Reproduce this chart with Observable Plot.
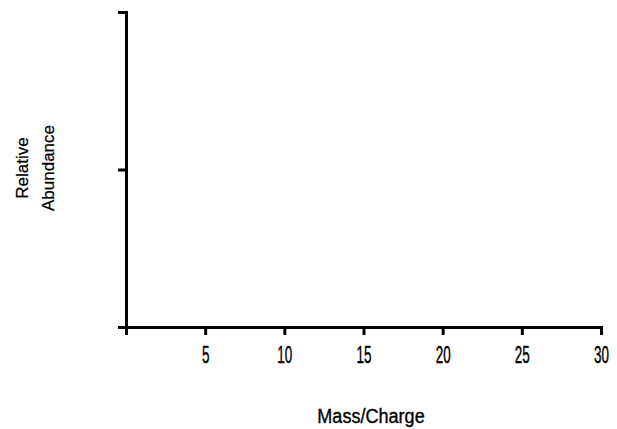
<!DOCTYPE html>
<html>
<head>
<meta charset="utf-8">
<script src="https://cdn.jsdelivr.net/npm/d3@7"></script>
<script src="https://cdn.jsdelivr.net/npm/@observablehq/plot@0.6"></script>
<style>
  html, body { margin: 0; padding: 0; background: #fff; }
  #chart svg { display: block; }
</style>
</head>
<body>
<div id="chart"></div>
<script>
const xDomain = [0, 30];
const yDomain = [0, 1];
const xTicks = [0, 5, 10, 15, 20, 25, 30];
const yTicks = [0, 0.5, 1];
const xLabel = "Mass/Charge";
const yLabel = "Relative\nAbundance";

const font = "'Liberation Sans', Arial, sans-serif";

const chart = Plot.plot({
  width: 617,
  height: 429,
  marginLeft: 126,
  marginRight: 16,
  marginTop: 12,
  marginBottom: 102,
  style: { fontFamily: font, background: "#fff", color: "#000" },
  x: { domain: xDomain },
  y: { domain: yDomain },
  marks: [
    Plot.frame({ anchor: "left", stroke: "#000", strokeWidth: 3 }),
    Plot.frame({ anchor: "bottom", stroke: "#000", strokeWidth: 3 }),
    Plot.axisY({ ticks: yTicks, tickSize: 8, strokeWidth: 3, tickFormat: () => "", label: null }),
    Plot.axisX({ ticks: xTicks, tickSize: 8, strokeWidth: 3, tickPadding: 10,
                 tickFormat: d => d === 0 ? "" : String(d), fontSize: 24, label: null }),
    Plot.text([xLabel], { text: d => d, frameAnchor: "bottom", dy: 95, dx: 7, fontSize: 21 }),
    Plot.text([yLabel], { text: d => d, frameAnchor: "left", textAnchor: "middle", rotate: -90,
                          dx: -94, dy: -2, fontSize: 17, lineHeight: 1.53 })
  ]
});
document.getElementById("chart").appendChild(chart);

// condensed look: squeeze glyphs horizontally about their own centre, and thicken strokes
function squeeze(nodes, s, w) {
  nodes.forEach(node => {
    const b = node.getBBox();
    const cx = b.x + b.width / 2;
    const t = node.getAttribute("transform") || "";
    node.setAttribute("transform", `${t} translate(${cx},0) scale(${s},1) translate(${-cx},0)`);
    node.setAttribute("stroke", "#000");
    node.setAttribute("stroke-width", w);
  });
}
const texts = Array.from(chart.querySelectorAll("text"));
const tickNums = new Set(xTicks.filter(d => d !== 0).map(String));
squeeze(texts.filter(t => tickNums.has(t.textContent.trim())), 0.56, 0.45);
squeeze(texts.filter(t => t.textContent.trim() === xLabel), 0.86, 0.35);
squeeze(texts.filter(t => t.textContent.trim().startsWith("Relative")), 1, 0.25);
</script>
</body>
</html>
